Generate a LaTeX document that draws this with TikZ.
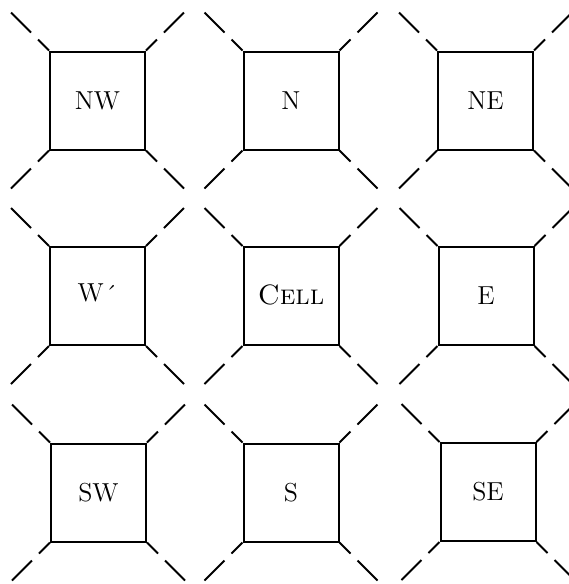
\documentclass[tikz,border=0pt]{standalone}
\usetikzlibrary{calc}
\begin{document}
\begin{tikzpicture}[x=0.5pt,y=-0.5pt,
  cellbox/.style={draw,line width=1pt,minimum width=47.5pt,minimum height=49pt,inner sep=0pt,font=\fontsize{13}{15}\selectfont},
  diag/.style={line width=1pt}]
\useasboundingbox (0,0) rectangle (568,584);
\node[cellbox] (nw) at (97.5,100.5) {\raisebox{-1pt}{NW}};
\node[cellbox] (n)  at (291,100.5) {\raisebox{-1pt}{N}};
\node[cellbox] (ne) at (485.5,100.5) {\raisebox{-1pt}{NE}};
\node[cellbox] (w)  at (97.5,296) {\raisebox{3pt}{W\hspace{0.5pt}\raisebox{-1pt}{´}}};
\node[cellbox] (c)  at (291,296) {\raisebox{1pt}{\fontsize{14}{16}\selectfont\scshape Cell}};
\node[cellbox] (e)  at (486,296) {E};
\node[cellbox] (sw) at (98.5,492.5) {\raisebox{-1pt}{SW}};
\node[cellbox] (s)  at (291,492.5) {S};
\node[cellbox] (se) at (488,492) {SE};
\foreach \n in {nw,n,ne,w,c,e,sw,s,se}{
  \foreach \a/\dx/\dy in {north west/-1/-1, north east/1/-1, south west/-1/1, south east/1/1}{
    \draw[diag] (\n.\a) -- ++(11*\dx,11*\dy);
    \draw[diag] ($(\n.\a)+(18*\dx,18*\dy)$) -- ++(20*\dx,20*\dy);
  }
}
\end{tikzpicture}
\end{document}
